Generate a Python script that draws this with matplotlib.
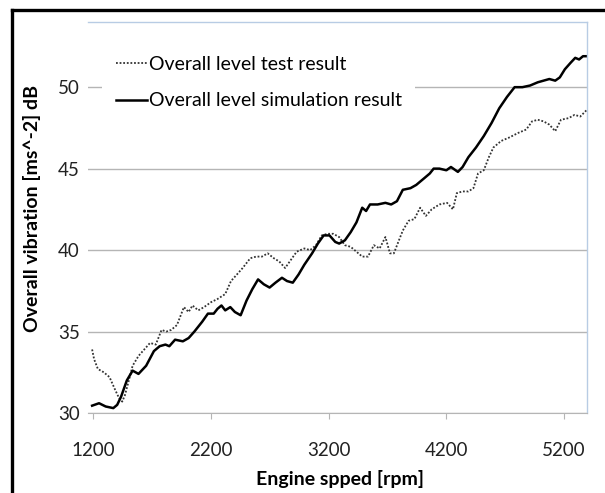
import matplotlib
matplotlib.use("Agg")
import matplotlib.pyplot as plt
from matplotlib.lines import Line2D

plt.rcParams['font.family'] = ['Lato', 'DejaVu Sans']

# simulation result (solid)
sim_rpm = [1190, 1249, 1305, 1370, 1403, 1436, 1485, 1534, 1584, 1649, 1715, 1764, 1813,
           1846, 1895, 1961, 2010, 2059, 2125, 2174, 2223, 2256, 2289, 2321, 2364, 2403,
           2452, 2502, 2551, 2600, 2649, 2698, 2748, 2803, 2846, 2895, 2944, 2993, 3059,
           3108, 3157, 3207, 3256, 3289, 3338, 3387, 3436, 3485, 3518, 3551, 3616, 3682,
           3731, 3780, 3830, 3895, 3944, 4010, 4059, 4092, 4141, 4200, 4239, 4298, 4338,
           4387, 4452, 4518, 4584, 4649, 4715, 4780, 4846, 4911, 4977, 5026, 5075, 5125,
           5164, 5207, 5256, 5295, 5328, 5361, 5393]
sim_db = [30.45, 30.6, 30.4, 30.3, 30.5, 31.0, 32.0, 32.6, 32.4, 32.9, 33.8, 34.1, 34.2,
          34.1, 34.5, 34.4, 34.6, 35.0, 35.6, 36.1, 36.1, 36.4, 36.6, 36.3, 36.5, 36.2,
          36.0, 36.9, 37.6, 38.2, 37.9, 37.7, 38.0, 38.3, 38.1, 38.0, 38.5, 39.1, 39.8,
          40.4, 40.9, 40.9, 40.5, 40.4, 40.6, 41.1, 41.7, 42.6, 42.4, 42.8, 42.8, 42.9,
          42.8, 43.0, 43.7, 43.8, 44.0, 44.4, 44.7, 45.0, 45.0, 44.9, 45.1, 44.8, 45.1,
          45.7, 46.3, 47.0, 47.8, 48.7, 49.4, 50.0, 50.0, 50.1, 50.3, 50.4, 50.5, 50.4,
          50.6, 51.1, 51.5, 51.8, 51.7, 51.9, 51.9]

# test result (dotted)
test_rpm = [1190, 1207, 1239, 1289, 1338, 1387, 1420, 1446, 1469, 1502, 1534, 1584, 1633,
            1682, 1731, 1780, 1820, 1862, 1911, 1970, 2010, 2043, 2092, 2141, 2200, 2256,
            2321, 2370, 2420, 2469, 2534, 2584, 2633, 2682, 2734, 2780, 2830, 2879, 2928,
            2993, 3043, 3092, 3141, 3190, 3239, 3289, 3338, 3387, 3436, 3485, 3534, 3584,
            3633, 3682, 3721, 3754, 3797, 3830, 3879, 3928, 3977, 4026, 4075, 4141, 4206,
            4256, 4289, 4338, 4387, 4430, 4469, 4518, 4561, 4600, 4666, 4731, 4813, 4879,
            4928, 4977, 5026, 5075, 5125, 5174, 5239, 5289, 5338, 5393]
test_db = [33.9, 33.3, 32.7, 32.5, 32.2, 31.4, 30.9, 30.7, 31.1, 32.0, 32.9, 33.5, 33.9,
           34.3, 34.2, 35.1, 35.0, 35.1, 35.4, 36.5, 36.2, 36.6, 36.3, 36.5, 36.8, 37.0,
           37.3, 38.1, 38.5, 38.9, 39.5, 39.6, 39.6, 39.8, 39.5, 39.3, 38.9, 39.4, 39.9,
           40.1, 40.0, 40.3, 40.9, 41.0, 41.0, 40.8, 40.3, 40.2, 39.9, 39.6, 39.6, 40.3,
           40.1, 40.8, 39.8, 39.8, 40.6, 41.2, 41.8, 41.9, 42.6, 42.1, 42.5, 42.8, 42.9,
           42.5, 43.5, 43.6, 43.6, 43.8, 44.7, 44.9, 45.7, 46.3, 46.7, 46.9, 47.2, 47.4,
           47.9, 48.0, 47.9, 47.7, 47.3, 48.0, 48.1, 48.3, 48.2, 48.6]

x_ticks = [1200, 2200, 3200, 4200, 5200]
y_ticks = [30, 35, 40, 45, 50]

fig = plt.figure(figsize=(6.05, 4.93), dpi=100)
ax = fig.add_axes([88 / 605, 1 - 413 / 493, 499 / 605, 391 / 493])

ax.plot(test_rpm, test_db, color='#333333', lw=1.3, ls=(0, (1, 1)),
        label='Overall level test result')
ax.plot(sim_rpm, sim_db, color='black', lw=1.8, label='Overall level simulation result')

ax.set_xlim(1155, 5395)
ax.set_ylim(30, 54)
ax.set_xticks(x_ticks)
ax.set_yticks(y_ticks)
ax.grid(axis='y', color='#b5b5b5', lw=1)
ax.set_axisbelow(True)

for s in ['top', 'right']:
    ax.spines[s].set_color('#b8cce4')
    ax.spines[s].set_linewidth(1)
ax.spines['left'].set_visible(False)
ax.spines['bottom'].set_color('#b5b5b5')
ax.tick_params(axis='x', length=4, color='#b5b5b5', pad=17, labelsize=13.5, labelcolor='#222222')
ax.tick_params(axis='y', length=0, pad=6, labelsize=13.5, labelcolor='#222222')

ax.set_xlabel('Engine spped [rpm]', fontsize=14, fontweight='bold')
ax.set_ylabel('Overall vibration [ms^-2] dB', fontsize=14, fontweight='bold')
ax.xaxis.set_label_coords(0.505, -0.145)
ax.yaxis.set_label_coords(-0.095, 0.524)

leg = ax.legend(loc='upper left', bbox_to_anchor=(0.028, 0.948), fontsize=14,
                frameon=True, facecolor='white', edgecolor='none', framealpha=1,
                handlelength=1.6, handletextpad=0.1, labelspacing=1.0, borderpad=0.7,
                borderaxespad=0, fancybox=False)

# outer frame (left and top edges)
fig.add_artist(Line2D([12 / 605, 12 / 605], [0, 1 - 10 / 493], color='black', lw=2.4,
                      transform=fig.transFigure))
fig.add_artist(Line2D([12 / 605, 1], [1 - 10 / 493, 1 - 10 / 493], color='black', lw=2.4,
                      transform=fig.transFigure))

fig.savefig('out.png', dpi=100)
